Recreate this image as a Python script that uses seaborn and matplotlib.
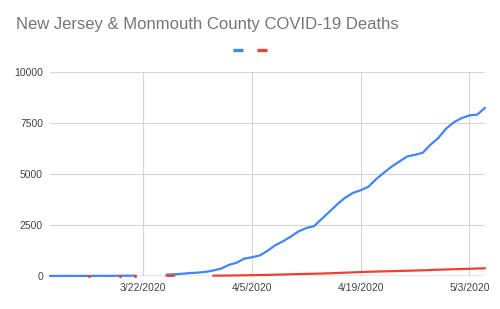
import pandas as pd
import seaborn as sns
import matplotlib
matplotlib.use('Agg')
from matplotlib import pyplot as plt
from matplotlib.lines import Line2D

# Daily cumulative deaths, 3/10/2020 .. 5/5/2020 (None = no value that day)
start_date = '2020-03-10'
end_date = '2020-05-05'

nj_deaths = [
    0, 1, 1, 1, 2, 2, 3, 5, 5, 9, 11, 16,           # 3/10 - 3/21
    None, None, None,                               # 3/22 - 3/24
    62, 81, 108, 140, 161, 198, 267,                # 3/25 - 3/31
    355, 537, 646, 846, 917, 1003, 1232, 1504, 1700, 1932,
    2183, 2350, 2443, 2805, 3156, 3518, 3840, 4070, 4202, 4377,
    4753, 5063, 5368, 5617, 5863, 5938, 6044, 6442, 6770, 7228,
    7538, 7742, 7871, 7910, 8244,                   # 5/1 - 5/5
]

monmouth_deaths = [
    None, None, None, None, None, 1, None, None, None, 2,
    None, 3, None, None, None, 5, 7, None, None, None, None,
    13, 16, 20, 25, 31, 38, 45, 52, 60, 72,
    82, 93, 100, 108, 118, 130, 145, 160, 175, 190,
    205, 215, 225, 235, 245, 255, 265, 275, 290, 305,
    318, 330, 340, 350, 365, 375,
]

series_names = ['nj', 'monmouth']
series_colors = ['#4285F4', '#EA4335']

tick_dates = ['2020-03-22', '2020-04-05', '2020-04-19', '2020-05-03']
tick_labels = ['3/22/2020', '4/5/2020', '4/19/2020', '5/3/2020']
y_ticks = [0, 2500, 5000, 7500, 10000]

title = 'New Jersey & Monmouth County COVID-19 Deaths'

sns.set_style('white')
plt.rcParams['font.family'] = ['Liberation Sans', 'DejaVu Sans']

dates = pd.date_range(start_date, end_date)
df = pd.DataFrame({'date': dates, 'nj': nj_deaths, 'monmouth': monmouth_deaths})
long = df.melt('date', var_name='series', value_name='deaths')
# split each series into runs separated by missing days, so gaps stay gaps
long['run'] = long.groupby('series')['deaths'].transform(lambda s: s.isna().cumsum())
long = long.dropna(subset=['deaths'])
long['seg'] = long['series'] + '_' + long['run'].astype(str)
long['n'] = long.groupby('seg')['deaths'].transform('size')

fig = plt.figure(figsize=(5, 3.09), dpi=100)
ax = fig.add_axes([0.10, 0.107, 0.87, 0.66])

ax.axhline(0, color='#9a9a9a', lw=1.0, zorder=1.5)

for name, color in zip(series_names, series_colors):
    part = long[long['series'] == name]
    lines = part[part['n'] > 1]
    dots = part[part['n'] == 1]
    sns.lineplot(data=lines, x='date', y='deaths', units='seg', estimator=None,
                 color=color, lw=1.6, ax=ax, legend=False, zorder=3, clip_on=False)
    if len(dots):
        sns.scatterplot(data=dots, x='date', y='deaths', color=color, s=5,
                        linewidth=0, ax=ax, legend=False, zorder=3, clip_on=False)

ax.set_xlim(pd.Timestamp(start_date), pd.Timestamp(end_date))
ax.set_ylim(0, 10000)
ax.set_xticks(pd.to_datetime(tick_dates))
ax.set_xticklabels(tick_labels)
ax.set_yticks(y_ticks)
ax.set_yticklabels([str(v) for v in y_ticks])
ax.tick_params(length=0, labelsize=7.5, colors='#444444', pad=5)
ax.grid(True, color='#d6d6d6', lw=0.8)
ax.set_axisbelow(True)
ax.set_xlabel('')
ax.set_ylabel('')
sns.despine(ax=ax, left=True, bottom=True)

fig.text(16 / 500, 1 - 25 / 309, title, ha='left', va='center',
         fontsize=12, color='#757575')

handles = [Line2D([], [], color=c, lw=2.4, solid_capstyle='butt') for c in series_colors]
fig.legend(handles, ['', ''], ncol=2, loc='center',
           bbox_to_anchor=(250 / 500, 1 - 51 / 309), frameon=False,
           handlelength=0.8, handletextpad=0, columnspacing=1.1, fontsize=9)

fig.savefig('out.png', dpi=100)
